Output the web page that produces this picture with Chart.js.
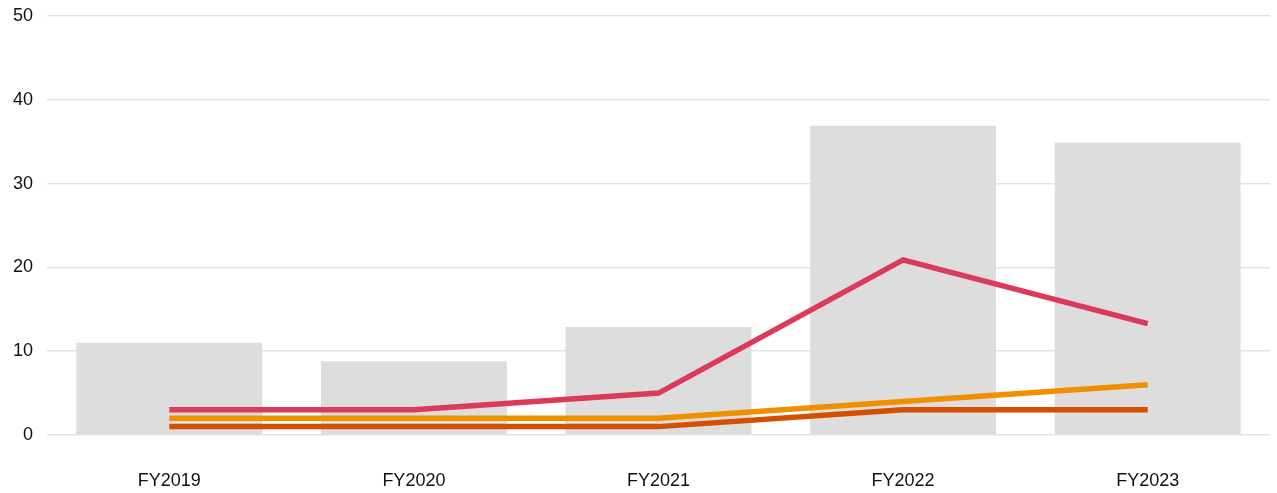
<!DOCTYPE html>
<html>
<head>
<meta charset="utf-8">
<script src="https://cdn.jsdelivr.net/npm/chart.js@4/dist/chart.umd.min.js"></script>
<style>
  html, body { margin: 0; padding: 0; background: #ffffff; }
  #wrap { width: 1277px; height: 493px; }
</style>
</head>
<body>
<div id="wrap"><canvas id="chart" width="1277" height="493"></canvas></div>
<script>
// Fiscal years along the x axis
const categories = ["FY2019", "FY2020", "FY2021", "FY2022", "FY2023"];

// Grey columns (total)
const totalValues = [11.0, 8.8, 12.9, 36.9, 34.9];

// Line series
const redValues = [3, 3, 5, 20.9, 13.3];
const orangeValues = [2, 2, 2, 4, 6];
const darkOrangeValues = [1, 1, 1, 3, 3];

// Y axis tick values
const yTicks = [0, 10, 20, 30, 40, 50];

const FONT = "'Liberation Sans', Arial, Helvetica, sans-serif";

const lineStyle = {
  type: "line",
  borderWidth: 5.5,
  pointRadius: 0,
  pointHoverRadius: 0,
  tension: 0,
  fill: false,
  borderCapStyle: "butt",
  borderJoinStyle: "miter"
};

new Chart(document.getElementById("chart"), {
  data: {
    labels: categories,
    datasets: [
      Object.assign({}, lineStyle, { label: "A", data: redValues, borderColor: "#dc3a5a", order: 1 }),
      Object.assign({}, lineStyle, { label: "B", data: orangeValues, borderColor: "#ee9000", order: 2 }),
      Object.assign({}, lineStyle, { label: "C", data: darkOrangeValues, borderColor: "#d44f00", order: 3 }),
      {
        type: "bar",
        label: "Total",
        data: totalValues,
        backgroundColor: "#dddddd",
        borderWidth: 0,
        barPercentage: 0.76,
        categoryPercentage: 1.0,
        order: 4
      }
    ]
  },
  options: {
    responsive: false,
    animation: false,
    events: [],
    layout: { padding: { top: 0, right: 7, left: 0, bottom: 0 } },
    plugins: {
      legend: { display: false },
      tooltip: { enabled: false }
    },
    scales: {
      x: {
        grid: { display: false, drawTicks: false },
        border: { display: false },
        afterFit: (s) => { s.height = 58; },
        ticks: {
          color: "#111111",
          padding: 35,
          font: { family: FONT, size: 18 }
        }
      },
      y: {
        min: 0,
        max: 50,
        afterBuildTicks: (axis) => { axis.ticks = yTicks.map(v => ({ value: v })); },
        afterFit: (s) => { s.width = 47; s.paddingTop = 16; s.paddingBottom = 0; },
        grid: { color: "#e3e3e3", lineWidth: 1.5, drawTicks: false },
        border: { display: false },
        ticks: {
          color: "#111111",
          padding: 14,
          font: { family: FONT, size: 18 }
        }
      }
    }
  }
});
</script>
</body>
</html>
